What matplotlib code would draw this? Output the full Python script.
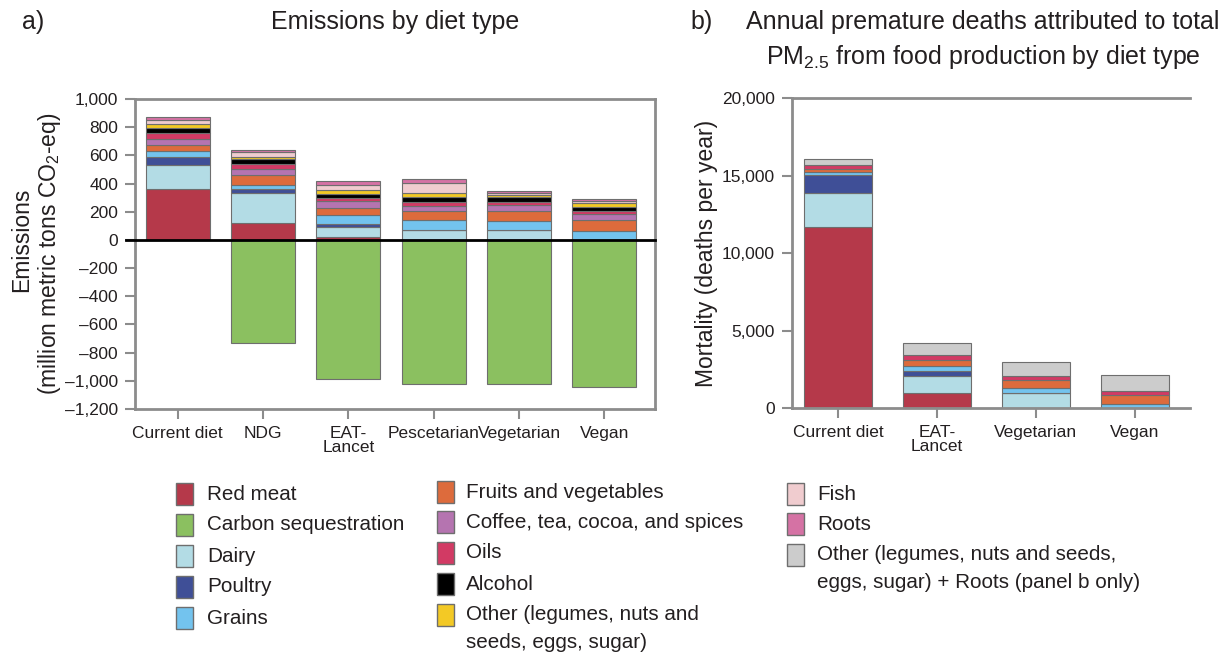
import matplotlib
matplotlib.use("Agg")
import matplotlib.pyplot as plt
from matplotlib.patches import Rectangle
from matplotlib.ticker import FuncFormatter
import numpy as np

plt.rcParams['font.family'] = ['Liberation Sans', 'DejaVu Sans']
plt.rcParams['mathtext.default'] = 'regular'

# ---------------- data: panel a (million metric tons CO2-eq) ----------------
categories_a = ['Current diet', 'NDG', 'EAT-\nLancet', 'Pescetarian', 'Vegetarian', 'Vegan']
red_meat_a = [362, 120, 23, 0, 0, 0]
dairy_a = [172, 214, 69, 73, 73, 0]
poultry_a = [56, 28, 23, 0, 0, 0]
grains_a = [42, 31, 59, 66, 63, 61]
fruits_a = [43, 68, 56, 63, 68, 80]
coffee_a = [42, 42, 43, 42, 45, 42]
oils_a = [42, 35, 23, 24, 19, 19]
alcohol_a = [35, 35, 33, 37, 37, 35]
other_a = [29, 14, 23, 29, 17, 26]
fish_a = [30, 40, 38, 70, 12, 14]
roots_a = [16, 14, 26, 26, 14, 12]
carbon_a = [0, -730, -985, -1020, -1020, -1045]

# ---------------- data: panel b (deaths per year) ----------------
categories_b = ['Current diet', 'EAT-\nLancet', 'Vegetarian', 'Vegan']
red_meat_b = [11700, 1000, 0, 0]
dairy_b = [2200, 1060, 1010, 0]
poultry_b = [1150, 370, 0, 0]
grains_b = [150, 320, 330, 260]
fruits_b = [250, 390, 470, 580]
oils_b = [200, 300, 300, 300]
other_b = [400, 800, 880, 990]

# ---------------- styles ----------------
C = {
    'Red meat': '#B5394A',
    'Carbon sequestration': '#8BC060',
    'Dairy': '#B3DCE5',
    'Poultry': '#3F4F97',
    'Grains': '#73C3EE',
    'Fruits and vegetables': '#DD6B3C',
    'Coffee': '#B574B0',
    'Oils': '#D23A64',
    'Alcohol': '#000000',
    'Other': '#F3C925',
    'Fish': '#F0CCCF',
    'Roots': '#D572A4',
    'OtherB': '#CCCCCC',
}
EDGE = '#6E6E6E'
SPINE = '#8C8C8C'
TXT = '#231F20'

W, H = 1227, 653
fig = plt.figure(figsize=(W / 100, H / 100), dpi=100)


def px_axes(left, top, right, bottom):
    return fig.add_axes([left / W, 1 - bottom / H, (right - left) / W, (bottom - top) / H])


def style_axes(ax, right_spine=True):
    for s in ['left', 'top', 'bottom']:
        ax.spines[s].set_color(SPINE)
        ax.spines[s].set_linewidth(2)
    ax.spines['right'].set_visible(right_spine)
    ax.spines['right'].set_color(SPINE)
    ax.spines['right'].set_linewidth(2)
    ax.tick_params(axis='both', colors=SPINE, labelcolor=TXT, labelsize=12.5,
                   length=7, width=1.5, direction='out')
    ax.tick_params(axis='y', pad=5)
    ax.tick_params(axis='x', pad=5)


def fmt(v, pos):
    s = '{:,.0f}'.format(abs(v))
    return ('\u2013' + s) if v < 0 else s


# ---------------- panel a ----------------
axa = px_axes(134.7, 99, 655, 409)
xa = np.arange(len(categories_a))
wa = 0.75
stack_a = [
    (red_meat_a, 'Red meat'), (dairy_a, 'Dairy'), (poultry_a, 'Poultry'),
    (grains_a, 'Grains'), (fruits_a, 'Fruits and vegetables'), (coffee_a, 'Coffee'),
    (oils_a, 'Oils'), (alcohol_a, 'Alcohol'), (other_a, 'Other'),
    (fish_a, 'Fish'), (roots_a, 'Roots'),
]
bottom = np.zeros(len(xa))
for vals, name in stack_a:
    v = np.array(vals, dtype=float)
    axa.bar(xa, v, wa, bottom=bottom, color=C[name], edgecolor=EDGE, linewidth=0.8, zorder=2)
    bottom += v
axa.bar(xa, carbon_a, wa, color=C['Carbon sequestration'], edgecolor=EDGE, linewidth=0.8, zorder=2)
axa.set_xlim(-0.504, 5.594)
axa.set_ylim(-1200, 1000)
axa.set_yticks(np.arange(-1200, 1001, 200))
axa.yaxis.set_major_formatter(FuncFormatter(fmt))
axa.set_xticks(xa)
axa.set_xticklabels(categories_a, linespacing=0.95)
style_axes(axa, right_spine=True)
axa.plot([-0.016, 1], [0, 0], transform=axa.get_yaxis_transform(), color='black',
         lw=2, clip_on=False, zorder=5)

# ---------------- panel b ----------------
axb = px_axes(791.7, 98, 1190, 408.3)
xb = np.arange(len(categories_b))
wb = 0.69
stack_b = [
    (red_meat_b, C['Red meat']), (dairy_b, C['Dairy']), (poultry_b, C['Poultry']),
    (grains_b, C['Grains']), (fruits_b, C['Fruits and vegetables']), (oils_b, C['Oils']),
    (other_b, C['OtherB']),
]
bottom = np.zeros(len(xb))
for vals, col in stack_b:
    v = np.array(vals, dtype=float)
    axb.bar(xb, v, wb, bottom=bottom, color=col, edgecolor=EDGE, linewidth=0.8, zorder=2)
    bottom += v
axb.set_xlim(-0.472, 3.56)
axb.set_ylim(0, 20000)
axb.set_yticks(np.arange(0, 20001, 5000))
axb.yaxis.set_major_formatter(FuncFormatter(fmt))
axb.set_xticks(xb)
axb.set_xticklabels(categories_b, linespacing=0.95)
style_axes(axb, right_spine=False)

# ---------------- titles and labels ----------------
fs_title = 18
fig.text(22 / W, 1 - 22 / H, 'a)', fontsize=fs_title, color=TXT, ha='left', va='center')
fig.text(395 / W, 1 - 22 / H, 'Emissions by diet type', fontsize=fs_title, color=TXT,
         ha='center', va='center')
fig.text(690 / W, 1 - 22 / H, 'b)', fontsize=fs_title, color=TXT, ha='left', va='center')
fig.text(983 / W, 1 - 22 / H, 'Annual premature deaths attributed to total', fontsize=fs_title,
         color=TXT, ha='center', va='center')
fig.text(983 / W, 1 - 57 / H, 'PM$_{2.5}$ from food production by diet type', fontsize=fs_title,
         color=TXT, ha='center', va='center')

fs_ylab = 16.5
fig.text(22 / W, 1 - 240 / H, 'Emissions', fontsize=fs_ylab, color=TXT, rotation=90,
         ha='center', va='center')
fig.text(50 / W, 1 - 254 / H, '(million metric tons CO$_2$-eq)', fontsize=fs_ylab, color=TXT,
         rotation=90, ha='center', va='center')
fig.text(706 / W, 1 - 253 / H, 'Mortality (deaths per year)', fontsize=fs_ylab, color=TXT,
         rotation=90, ha='center', va='center')

# ---------------- legend ----------------
fs_leg = 14.9
legend_cols = [
    (176, 207, [('Red meat', C['Red meat']), ('Carbon sequestration', C['Carbon sequestration']),
                ('Dairy', C['Dairy']), ('Poultry', C['Poultry']), ('Grains', C['Grains'])],
     [494, 525, 556, 587, 618]),
    (437, 466, [('Fruits and vegetables', C['Fruits and vegetables']),
                ('Coffee, tea, cocoa, and spices', C['Coffee']),
                ('Oils', C['Oils']), ('Alcohol', C['Alcohol']),
                ('Other (legumes, nuts and\nseeds, eggs, sugar)', C['Other'])],
     [492, 522, 553, 584, 615]),
    (787, 817, [('Fish', C['Fish']), ('Roots', C['Roots']),
                ('Other (legumes, nuts and seeds,\neggs, sugar) + Roots (panel b only)', C['OtherB'])],
     [494, 524, 555]),
]
for px, tx, items, ys in legend_cols:
    for (label, col), y in zip(items, ys):
        fig.add_artist(Rectangle((px / W, 1 - (y + 11) / H), 17 / W, 22 / H,
                                 transform=fig.transFigure, facecolor=col,
                                 edgecolor=EDGE, linewidth=1))
        for k, line in enumerate(label.split('\n')):
            fig.text(tx / W, 1 - (y + 27 * k) / H, line, fontsize=fs_leg, color=TXT,
                     ha='left', va='center')

fig.savefig('out.png', dpi=100)
